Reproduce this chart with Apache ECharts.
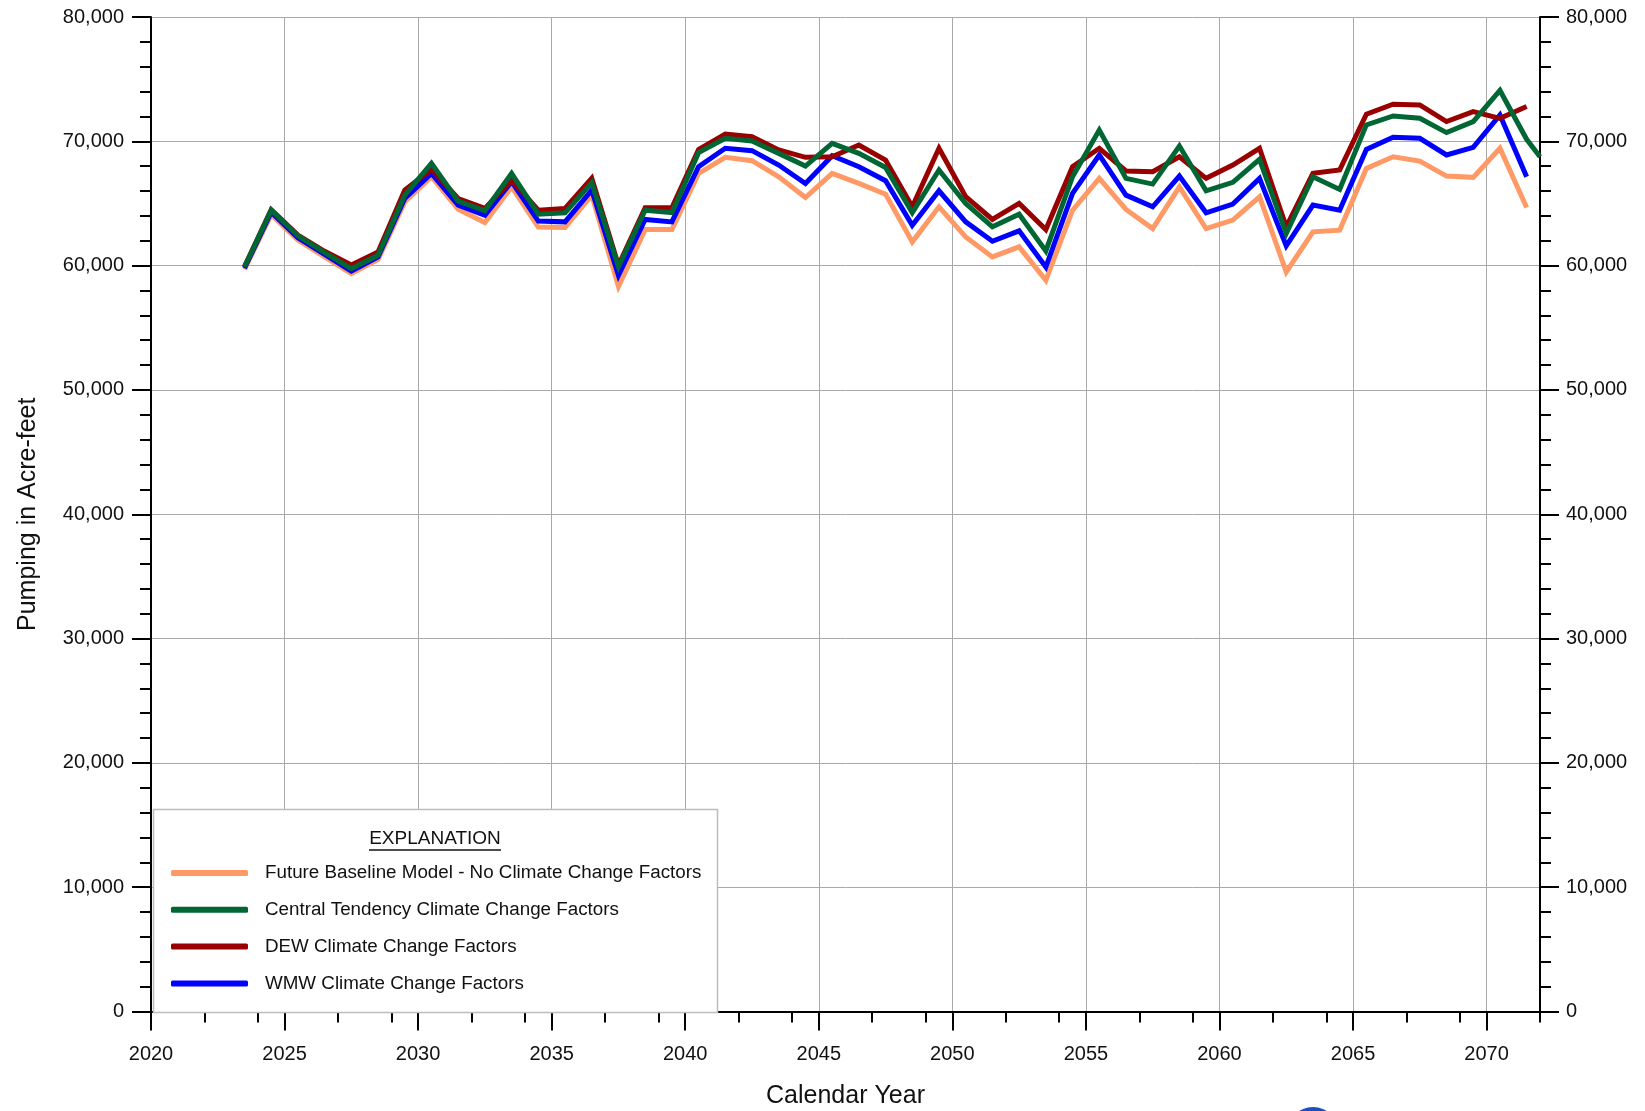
<!DOCTYPE html>
<html>
<head>
<meta charset="utf-8">
<title>Pumping in Acre-feet by Calendar Year</title>
<script src="https://cdn.jsdelivr.net/npm/echarts@6/dist/echarts.min.js"></script>
<style>
  html, body { margin: 0; padding: 0; background: #ffffff; }
  #chart { width: 1645px; height: 1111px; }
</style>
</head>
<body>
<div id="chart"></div>
<script>
// Mid-year positions of the annual pumping totals
const years = [
  2023.5, 2024.5, 2025.5, 2026.5, 2027.5, 2028.5, 2029.5, 2030.5, 2031.5, 2032.5,
  2033.5, 2034.5, 2035.5, 2036.5, 2037.5, 2038.5, 2039.5, 2040.5, 2041.5, 2042.5,
  2043.5, 2044.5, 2045.5, 2046.5, 2047.5, 2048.5, 2049.5, 2050.5, 2051.5, 2052.5,
  2053.5, 2054.5, 2055.5, 2056.5, 2057.5, 2058.5, 2059.5, 2060.5, 2061.5, 2062.5,
  2063.5, 2064.5, 2065.5, 2066.5, 2067.5, 2068.5, 2069.5, 2070.5, 2071.5
];
// Central tendency run carries on to the right edge of the axis
const centralYears = years.concat([2072]);

// Pumping, acre-feet
const baselineValues = [
  59700, 64100, 62050, 60700, 59350, 60500, 65130, 67150, 64540, 63470,
  66340, 63100, 63060, 65670, 58330, 62900, 62900, 67420, 68710, 68440,
  67150, 65480, 67420, 66610, 65750, 61910, 64730, 62310, 60700, 61510,
  58820, 64460, 67020, 64520, 62980, 66340, 62980, 63660, 65540, 59490,
  62720, 62850, 67820, 68760, 68410, 67200, 67100, 69440, 64680
];
const centralValues = [
  59900, 64450, 62400, 61050, 59750, 60850, 65670, 68230, 65190, 64410,
  67420, 64140, 64250, 66670, 59890, 64460, 64270, 69090, 70240, 70030,
  69030, 68010, 69840, 69030, 67900, 64250, 67690, 65000, 63120, 64140,
  61180, 67150, 70910, 67020, 66560, 69620, 66020, 66700, 68550, 62580,
  67150, 66130, 71320, 72040, 71850, 70700, 71590, 74090, 70160, 68760
];
const dewValues = [
  59900, 64500, 62450, 61150, 60050, 61100, 66080, 67740, 65400, 64600,
  66880, 64460, 64600, 67020, 60030, 64650, 64650, 69350, 70590, 70380,
  69300, 68710, 68760, 69700, 68490, 64730, 69440, 65540, 63710, 65000,
  62900, 67960, 69440, 67610, 67550, 68760, 67020, 68090, 69440, 63120,
  67420, 67690, 72180, 72980, 72930, 71590, 72390, 71850, 72800
];
const wmwValues = [
  59800, 64300, 62250, 60900, 59550, 60700, 65400, 67420, 64870, 64060,
  66750, 63580, 63520, 66080, 59220, 63710, 63520, 67960, 69440, 69250,
  68090, 66610, 68840, 67960, 66830, 63250, 66020, 63520, 61960, 62800,
  59890, 65810, 68900, 65670, 64730, 67200, 64250, 64950, 67020, 61590,
  64870, 64460, 69350, 70320, 70240, 68900, 69520, 72120, 67150
];

const seriesNames = [
  'Future Baseline Model - No Climate Change Factors',
  'Central Tendency Climate Change Factors',
  'DEW Climate Change Factors',
  'WMW Climate Change Factors'
];

// Axis tick layout
const yearMajorTicks = [2020, 2025, 2030, 2035, 2040, 2045, 2050, 2055, 2060, 2065, 2070];
const yearMinorTicks = [
  2022, 2024, 2027, 2029, 2032, 2034, 2037, 2039, 2042, 2044, 2047, 2049,
  2052, 2054, 2057, 2059, 2062, 2064, 2067, 2069, 2072
];

const FONT = "'Liberation Sans Narrow','Arial Narrow','Liberation Sans',Arial,sans-serif";
const INK = '#111111';
const GRID_GRAY = '#a9a9a9';

function pairs(xs, ys) {
  return ys.map(function (v, i) { return [xs[i], v]; });
}
function fmt(v) {
  return String(v).replace(/\B(?=(\d{3})+(?!\d))/g, ',');
}

function lineSeries(name, color, xs, ys) {
  return {
    name: name,
    type: 'line',
    data: pairs(xs, ys),
    symbol: 'none',
    clip: true,
    itemStyle: { color: color },
    lineStyle: { color: color, width: 5, join: 'miter', cap: 'butt' },
    emphasis: { disabled: true },
    animation: false
  };
}

function yAxisDef(position, labelMargin) {
  return {
    type: 'value',
    position: position,
    min: 0,
    max: 80000,
    interval: 10000,
    axisLine: { show: true, onZero: false, lineStyle: { color: '#000', width: 2 } },
    axisTick: { show: true, length: 19, lineStyle: { color: '#000', width: 2 } },
    minorTick: { show: true, splitNumber: 5, length: 11, lineStyle: { color: '#000', width: 2 } },
    axisLabel: {
      margin: labelMargin,
      fontFamily: FONT,
      fontSize: 20,
      color: INK,
      formatter: fmt
    },
    splitLine: position === 'left'
      ? { show: true, lineStyle: { color: GRID_GRAY, width: 1 } }
      : { show: false }
  };
}

const chart = echarts.init(document.getElementById('chart'), null, { renderer: 'canvas' });

chart.setOption({
  backgroundColor: '#ffffff',
  animation: false,
  grid: {
    left: 151, right: 105, top: 17, bottom: 99.5,
    containLabel: false,
    outerBoundsMode: 'none'
  },
  xAxis: [
    {
      type: 'value',
      position: 'bottom',
      min: 2020,
      max: 2072,
      interval: 5,
      name: 'Calendar Year',
      nameLocation: 'middle',
      nameGap: 72.5,
      nameTextStyle: { fontFamily: FONT, fontSize: 25, color: INK },
      axisLine: { show: true, onZero: false, lineStyle: { color: '#000', width: 2 } },
      axisTick: { show: true, length: 19, lineStyle: { color: '#000', width: 2 } },
      axisLabel: {
        margin: 32.5,
        fontFamily: FONT,
        fontSize: 20,
        color: INK,
        showMaxLabel: false,
        formatter: function (v) { return yearMajorTicks.indexOf(v) >= 0 ? String(v) : ''; }
      },
      splitLine: { show: true, lineStyle: { color: GRID_GRAY, width: 1 } }
    },
    {
      type: 'value',
      position: 'bottom',
      min: 2020,
      max: 2072,
      interval: 5,
      axisLine: { show: false, onZero: false },
      axisTick: {
        show: true,
        customValues: yearMinorTicks,
        length: 11,
        lineStyle: { color: '#000', width: 2 }
      },
      axisLabel: { show: false },
      splitLine: { show: false }
    }
  ],
  yAxis: [
    Object.assign(yAxisDef('left', 27), {
      name: 'Pumping in Acre-feet',
      nameLocation: 'middle',
      nameGap: 110,
      nameRotate: 90,
      nameTextStyle: { fontFamily: FONT, fontSize: 25, color: INK }
    }),
    yAxisDef('right', 26)
  ],
  legend: {
    show: true,
    data: seriesNames,
    orient: 'vertical',
    left: 171,
    top: 862,
    padding: 0,
    itemWidth: 77,
    itemHeight: 6,
    itemGap: 14.8,
    icon: 'roundRect',
    selectedMode: false,
    z: 20,
    textStyle: {
      fontFamily: FONT,
      fontSize: 18.8,
      lineHeight: 22,
      color: INK,
      padding: [0, 0, 0, 12]
    }
  },
  graphic: {
    elements: [
      {
        type: 'rect',
        z: 10,
        shape: { x: 153.5, y: 809.5, width: 564, height: 203 },
        style: { fill: '#ffffff', stroke: '#bdbdbd', lineWidth: 1.5 }
      },
      {
        type: 'text',
        z: 11,
        x: 435,
        y: 839,
        style: {
          text: 'EXPLANATION',
          fontFamily: FONT,
          fontSize: 19,
          fill: INK,
          align: 'center',
          verticalAlign: 'middle'
        }
      },
      {
        type: 'line',
        z: 11,
        shape: { x1: 369, y1: 850, x2: 501, y2: 850 },
        style: { stroke: INK, lineWidth: 1.5 }
      },
      {
        type: 'circle',
        z: 1,
        shape: { cx: 1313, cy: 1133, r: 26 },
        style: { fill: '#1d4fc0' }
      }
    ]
  },
  // drawing order: baseline underneath, central tendency on top
  series: [
    lineSeries(seriesNames[0], '#FF9966', years, baselineValues),
    lineSeries(seriesNames[3], '#0000FF', years, wmwValues),
    lineSeries(seriesNames[2], '#990000', years, dewValues),
    lineSeries(seriesNames[1], '#006633', centralYears, centralValues)
  ]
});
</script>
</body>
</html>
